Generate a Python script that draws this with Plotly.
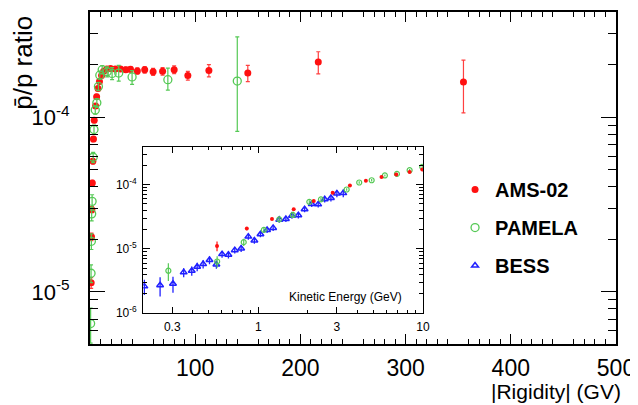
import math
import plotly.graph_objects as go

# ---------------- main panel data (|Rigidity| in GV) ----------------
ams_R = [1.1, 1.4, 1.8, 2.2, 2.7, 3.3, 4.0, 5.3, 6.3, 7.6, 9.0, 11.0, 13.0, 16.0, 19.5,
         24.0, 29.0, 34.0, 38.5, 45.0, 52.0, 60.0, 69.0, 80.0, 93.0, 113.0, 150.0, 217.0, 355.0]
ams_ratio = [1.13e-5, 2.07e-5, 2.96e-5, 4.2e-5, 5.6e-5, 7.5e-5, 9.6e-5, 1.16e-4, 1.31e-4, 1.46e-4,
             1.60e-4, 1.73e-4, 1.83e-4, 1.89e-4, 1.90e-4, 1.89e-4, 1.89e-4, 1.87e-4, 1.88e-4, 1.84e-4,
             1.87e-4, 1.82e-4, 1.83e-4, 1.87e-4, 1.73e-4, 1.85e-4, 1.79e-4, 2.07e-4, 1.59e-4]
ams_err = [0.8e-6, 1.0e-6, 1.2e-6, 1.5e-6, 2.0e-6, 2.5e-6, 3.0e-6, 3.5e-6, 4.0e-6, 4.0e-6,
           4.5e-6, 4.5e-6, 5.0e-6, 5.0e-6, 5.0e-6, 5.5e-6, 6.0e-6, 6.5e-6, 7.0e-6, 7.5e-6,
           8.0e-6, 8.5e-6, 9.0e-6, 9.5e-6, 1.0e-5, 1.5e-5, 1.9e-5, 3.0e-5, 5.3e-5]

pam_R = [0.6, 1.0, 1.3, 1.6, 2.0, 3.0, 3.8, 5.0, 6.5, 8.0, 9.3, 11.6, 16.3, 21.0, 27.3, 40.0, 74.0, 140.0]
pam_ratio = [6.6e-6, 1.28e-5, 1.95e-5, 2.8e-5, 3.3e-5, 5.9e-5, 8.5e-5, 1.10e-4, 1.21e-4, 1.50e-4,
             1.74e-4, 1.87e-4, 1.82e-4, 1.78e-4, 1.79e-4, 1.70e-4, 1.64e-4, 1.61e-4]
pam_err_up = [1.5e-6, 1.5e-6, 2e-6, 2.5e-6, 3e-6, 4e-6, 5e-6, 6e-6, 7e-6, 8e-6,
              9e-6, 1.0e-5, 1.2e-5, 1.4e-5, 1.9e-5, 1.5e-5, 2.7e-5, 1.27e-4]
pam_err_dn = [1.5e-6, 1.5e-6, 2e-6, 2.5e-6, 3e-6, 4e-6, 5e-6, 6e-6, 7e-6, 8e-6,
              9e-6, 1.0e-5, 1.2e-5, 1.4e-5, 1.8e-5, 1.6e-5, 2.1e-5, 7.8e-5]

# ---------------- inset data (kinetic energy in GeV) ----------------
bess_E = [0.203, 0.253, 0.303, 0.352, 0.394, 0.425, 0.462, 0.505, 0.556, 0.602, 0.658, 0.719,
          0.786, 0.869, 0.946, 1.03, 1.13, 1.23, 1.34, 1.47, 1.60, 1.75, 1.91, 2.11, 2.31,
          2.53, 2.76, 3.0, 3.28]
bess_ratio = [2.6e-6, 2.7e-6, 2.86e-6, 4.3e-6, 4.56e-6, 5.26e-6, 5.78e-6, 6.68e-6, 5.7e-6, 8.27e-6,
              8.07e-6, 9.53e-6, 1.01e-5, 1.55e-5, 1.35e-5, 1.69e-5, 1.97e-5, 2.12e-5, 2.85e-5,
              2.92e-5, 3.28e-5, 3.33e-5, 4.13e-5, 4.99e-5, 4.93e-5, 5.9e-5, 6.18e-5, 7.3e-5, 7.38e-5]
bess_err = [0.7e-6, 0.9e-6, 0.8e-6, 0.7e-6, 0.75e-6, 0.8e-6, 0.85e-6, 0.95e-6, 0.8e-6, 1.0e-6,
            1.0e-6, 1.1e-6, 1.2e-6, 1.7e-6, 1.5e-6, 1.8e-6, 2.1e-6, 2.3e-6, 3.0e-6, 3.0e-6,
            3.4e-6, 3.5e-6, 4.3e-6, 5.2e-6, 5.3e-6, 6.5e-6, 7.0e-6, 9.5e-6, 1.0e-5]

amsI_E = [0.561, 0.851, 1.21, 1.64, 2.17, 2.83, 3.6, 4.5, 5.6, 6.88, 8.3, 9.9]
amsI_ratio = [1.11e-5, 2.07e-5, 2.92e-5, 4.13e-5, 5.55e-5, 7.47e-5, 9.72e-5, 1.15e-4,
              1.31e-4, 1.44e-4, 1.58e-4, 1.72e-4]
amsI_err = [1.9e-6, 1.2e-6, 1.2e-6, 1.3e-6, 1.5e-6, 1.8e-6, 2.2e-6, 2.5e-6, 3e-6, 3.5e-6, 4e-6, 4.5e-6]

pamI_E = [0.284, 0.562, 0.815, 1.08, 1.34, 1.62, 2.04, 2.4, 3.44, 4.1, 4.88, 5.87, 6.95, 8.3, 9.9]
pamI_ratio = [4.56e-6, 6.35e-6, 1.27e-5, 1.97e-5, 2.88e-5, 3.37e-5, 5.4e-5, 5.9e-5, 8.4e-5,
              1.08e-4, 1.17e-4, 1.39e-4, 1.47e-4, 1.68e-4, 1.89e-4]
pamI_err = [1.4e-6, 1.3e-6, 1.6e-6, 1.8e-6, 2.2e-6, 2.4e-6, 3e-6, 3.2e-6, 4e-6, 4.5e-6,
            5e-6, 5.5e-6, 6e-6, 7e-6, 8e-6]

# tick labels
main_x_ticks = [100, 200, 300, 400, 500]
main_x_text = ["100", "200", "300", "400", "500"]
main_x_half_ticks = [50, 150, 250, 350, 450]
main_y_ticks = [1e-5, 1e-4]
main_y_text = ["10<sup>-5</sup>", "10<sup>-4</sup>"]
inset_x_ticks = [0.3, 1, 3, 10]
inset_x_text = ["0.3", "1", "3", "10"]
inset_y_ticks = [1e-6, 1e-5, 1e-4]
inset_y_text = ["10<sup>-6</sup>", "10<sup>-5</sup>", "10<sup>-4</sup>"]

RED = "#ff1010"
GREEN = "#55c955"
BLUE = "#2020ff"
FONT = "Liberation Sans, Arial, Helvetica, sans-serif"

fig = go.Figure()

fig.add_trace(go.Scatter(
    x=ams_R, y=ams_ratio, mode="markers", name="AMS-02", legendgroup="a",
    marker=dict(symbol="circle", size=7, color=RED),
    error_y=dict(type="data", array=ams_err, color="#ff4040", thickness=1.2, width=2),
    xaxis="x", yaxis="y"))
fig.add_trace(go.Scatter(
    x=pam_R, y=pam_ratio, mode="markers", name="PAMELA", legendgroup="b",
    marker=dict(symbol="circle-open", size=8, color=GREEN, line=dict(width=1.3)),
    error_y=dict(type="data", array=pam_err_up, arrayminus=pam_err_dn, symmetric=False,
                 color=GREEN, thickness=1.2, width=2),
    xaxis="x", yaxis="y"))

# inset traces
fig.add_trace(go.Scatter(
    x=bess_E, y=bess_ratio, mode="markers", name="BESS", legendgroup="c",
    marker=dict(symbol="triangle-up-open", size=6, color=BLUE, line=dict(width=1.5)),
    error_y=dict(type="data", array=bess_err, color=BLUE, thickness=1.3, width=0),
    xaxis="x2", yaxis="y2"))
fig.add_trace(go.Scatter(
    x=pamI_E, y=pamI_ratio, mode="markers", showlegend=False,
    marker=dict(symbol="circle-open", size=5, color=GREEN, line=dict(width=1.2)),
    error_y=dict(type="data", array=pamI_err, color=GREEN, thickness=1.2, width=0),
    xaxis="x2", yaxis="y2"))
fig.add_trace(go.Scatter(
    x=amsI_E, y=amsI_ratio, mode="markers", showlegend=False,
    marker=dict(symbol="circle", size=4, color=RED),
    error_y=dict(type="data", array=amsI_err, color=RED, thickness=1.2, width=0),
    xaxis="x2", yaxis="y2"))

main_x_minor = [v for v in range(10, 500, 10) if v % 50 != 0]
main_y_minor = [m * 10.0 ** e for e in (-6, -5, -4) for m in range(2, 10)]
inset_x_minor = [0.2, 0.4, 0.5, 0.6, 0.7, 0.8, 0.9, 2, 4, 5, 6, 7, 8, 9]
inset_y_minor = [m * 10.0 ** e for e in (-6, -5, -4) for m in range(2, 10)]

# the page body keeps its default 8px margin, so the figure is 8px smaller
fig.update_layout(
    width=630, height=397,
    margin=dict(l=82, r=22, t=4, b=61, autoexpand=False),
    paper_bgcolor="white", plot_bgcolor="white",
    font=dict(family=FONT, color="black"),
    xaxis=dict(
        domain=[0, 1], anchor="y", range=[0, 500], automargin=False,
        tickmode="array", tickvals=main_x_ticks, ticktext=main_x_text,
        ticks="inside", ticklen=10, tickwidth=1, tickcolor="black",
        mirror="allticks", showline=True, linecolor="black", linewidth=2,
        showgrid=False, zeroline=False, ticklabelstandoff=2,
        tickfont=dict(size=23, family=FONT),
        minor=dict(tickmode="array", tickvals=main_x_minor, ticks="inside", ticklen=5,
                   tickcolor="black", tickwidth=1, showgrid=False),
    ),
    xaxis3=dict(
        overlaying="x", anchor="y", range=[0, 500], automargin=False,
        tickmode="array", tickvals=main_x_half_ticks, showticklabels=False,
        ticks="inside", ticklen=10, tickwidth=1, tickcolor="black",
        mirror="allticks", showline=True, linecolor="black", linewidth=2,
        showgrid=False, zeroline=False,
    ),
    yaxis=dict(
        domain=[0, 1], anchor="x", type="log", automargin=False,
        range=[math.log10(5.04e-6), math.log10(4.0e-4)],
        tickmode="array", tickvals=main_y_ticks, ticktext=main_y_text,
        ticks="inside", ticklen=15, tickwidth=1, tickcolor="black",
        mirror="allticks", showline=True, linecolor="black", linewidth=2,
        showgrid=False, zeroline=False, ticklabelstandoff=14,
        tickfont=dict(size=22, family=FONT),
        minor=dict(tickmode="array", tickvals=main_y_minor, ticks="inside", ticklen=8,
                   tickcolor="black", tickwidth=1, showgrid=False),
    ),
    xaxis2=dict(
        domain=[0.1013, 0.633], anchor="y2", type="log", automargin=False,
        range=[math.log10(0.2), 1.0],
        tickmode="array", tickvals=inset_x_ticks, ticktext=inset_x_text,
        ticks="inside", ticklen=6, tickwidth=1, tickcolor="black",
        mirror="allticks", showline=True, linecolor="black", linewidth=1.3,
        showgrid=False, zeroline=False, ticklabelstandoff=2,
        tickfont=dict(size=12, family=FONT),
        minor=dict(tickmode="array", tickvals=inset_x_minor, ticks="inside", ticklen=3,
                   tickcolor="black", tickwidth=1, showgrid=False),
    ),
    yaxis2=dict(
        domain=[0.0934, 0.594], anchor="x2", type="log", automargin=False,
        range=[-6.0, -3.41],
        tickmode="array", tickvals=inset_y_ticks, ticktext=inset_y_text,
        ticks="inside", ticklen=7, tickwidth=1, tickcolor="black",
        mirror="allticks", showline=True, linecolor="black", linewidth=1.3,
        showgrid=False, zeroline=False, ticklabelstandoff=3,
        tickfont=dict(size=12, family=FONT),
        minor=dict(tickmode="array", tickvals=inset_y_minor, ticks="inside", ticklen=3.5,
                   tickcolor="black", tickwidth=1, showgrid=False),
    ),
    legend=dict(
        x=0.694, y=0.524, xanchor="left", yanchor="top",
        bgcolor="rgba(0,0,0,0)", borderwidth=0,
        font=dict(size=20, family=FONT, weight="bold"),
        traceorder="grouped", tracegroupgap=9,
    ),
    annotations=[
        dict(text="p\u0304/p ratio", xref="paper", yref="paper", x=-0.128, y=0.846,
             xanchor="center", yanchor="middle", textangle=-90, showarrow=False,
             font=dict(size=26, family=FONT)),
        dict(text="|Rigidity| (GV)", xref="paper", yref="paper", x=1.0133, y=-0.1416,
             xanchor="right", yanchor="middle", showarrow=False,
             font=dict(size=21, family=FONT)),
        dict(text="Kinetic Energy (GeV)", xref="paper", yref="paper", x=0.5975, y=0.1407,
             xanchor="right", yanchor="middle", showarrow=False,
             font=dict(size=12, family=FONT)),
    ],
)

fig.write_html("out.html")
